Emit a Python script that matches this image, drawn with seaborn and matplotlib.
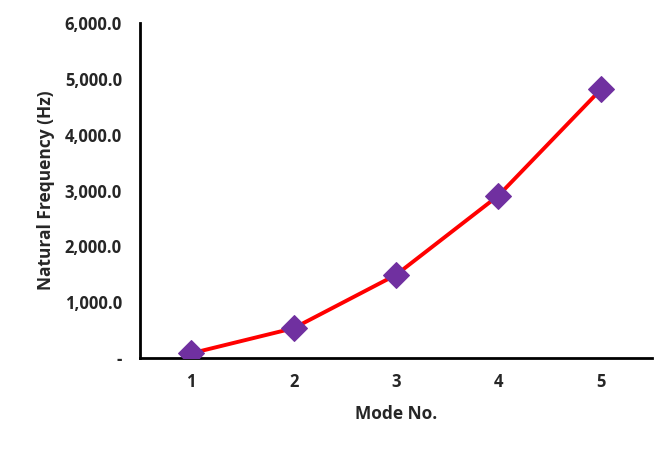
import matplotlib
matplotlib.use("Agg")
import matplotlib.pyplot as plt
import seaborn as sns
import pandas as pd
from matplotlib.ticker import FuncFormatter, FixedLocator

# data
modes = [1, 2, 3, 4, 5]
freq_hz = [85, 535, 1490, 2910, 4810]

df = pd.DataFrame({"mode": modes, "freq": freq_hz})

sns.set_style("white")
plt.rcParams["font.family"] = ["Open Sans", "DejaVu Sans"]
plt.rcParams["font.weight"] = "bold"

fig = plt.figure(figsize=(6.72, 4.51), dpi=100)
ax = fig.add_axes([0.2083, 0.206, 0.762, 0.743])

sns.lineplot(x="mode", y="freq", data=df, ax=ax, color="#ff0000", linewidth=2.8,
             marker="D", markersize=13, markerfacecolor="#7030a0",
             markeredgecolor="#7030a0", zorder=3)

ax.set_xlim(0.5, 5.5)
ax.set_ylim(0, 6000)
ax.set_xticks(modes)
ax.xaxis.set_minor_locator(FixedLocator([0.5, 1.5, 2.5, 3.5, 4.5, 5.5]))
ax.tick_params(axis="x", which="major", length=0, pad=11, labelsize=12)
ax.tick_params(axis="x", which="minor", length=6, width=1.8, direction="out", color="black")
ax.set_yticks([0, 1000, 2000, 3000, 4000, 5000, 6000])
ax.yaxis.set_major_formatter(FuncFormatter(lambda v, p: "-" if v == 0 else f"{v:,.1f}"))
ax.tick_params(axis="y", length=6, width=1.8, direction="out", color="black", labelsize=12, pad=7)

for side in ["top", "right"]:
    ax.spines[side].set_visible(False)
for side in ["left", "bottom"]:
    ax.spines[side].set_linewidth(2)
    ax.spines[side].set_color("black")

ax.set_xlabel("Mode No.", fontsize=12.5, fontweight="bold", labelpad=10)
ax.set_ylabel("Natural Frequency (Hz)", fontsize=12.5, fontweight="bold", labelpad=7)

for lbl in ax.get_xticklabels() + ax.get_yticklabels():
    lbl.set_fontweight("bold")

fig.savefig("out.png", dpi=100)
